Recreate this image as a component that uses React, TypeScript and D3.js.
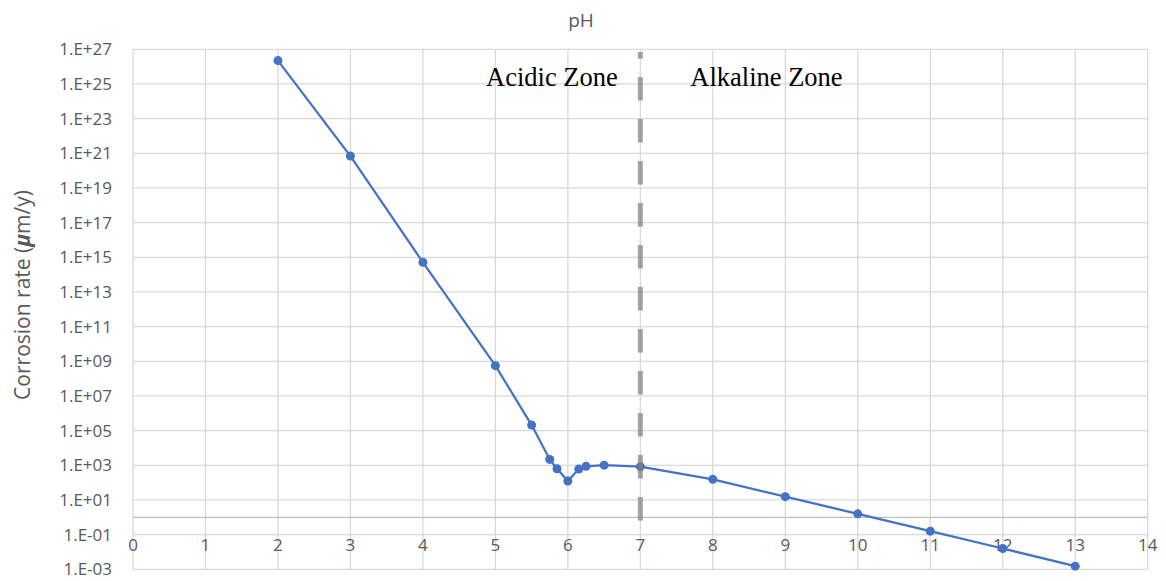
import React from "react";
import * as d3 from "d3";

const pH = [2, 3, 4, 5, 5.5, 5.75, 5.85, 6, 6.15, 6.25, 6.5, 7, 8, 9, 10, 11, 12, 13];
const logRate = [26.35, 20.84, 14.71, 8.75, 5.32, 3.34, 2.8, 2.09, 2.78, 2.94, 3.01, 2.92, 2.19, 1.19, 0.2, -0.8, -1.8, -2.82];
const rate = logRate.map((l) => Math.pow(10, l));
const xTicks = d3.range(0, 15);
const yTickExps = d3.range(-3, 28, 2);
const yTickLabels = yTickExps.map((e) => `1.E${e < 0 ? "-" : "+"}${String(Math.abs(e)).padStart(2, "0")}`);
const zoneLabels = [
  { text: "Acidic Zone", x: 5.78 },
  { text: "Alkaline Zone", x: 8.74 },
];
const boundaryPH = 7;

const W = 1166;
const H = 581;
const M = { left: 133, right: 1147.7, top: 49.3, bottom: 569.3 };

export default function App() {
  const x = d3.scaleLinear().domain([0, 14]).range([M.left, M.right]);
  const y = d3.scaleLog().domain([1e-3, 1e27]).range([M.bottom, M.top]);
  const line = d3
    .line<number>()
    .x((_, i) => x(pH[i]))
    .y((d) => y(d));
  const gridColor = "#d9d9d9";
  const textColor = "#595959";
  const font = "'Open Sans', sans-serif";
  return (
    <div style={{ position: "absolute", left: 0, top: 0 }}>
      <svg width={W} height={H} style={{ display: "block", background: "#fff" }}>
        {/* grid */}
        {yTickExps.map((e) => (
          <line key={"gy" + e} x1={M.left} x2={M.right} y1={y(Math.pow(10, e))} y2={y(Math.pow(10, e))} stroke={gridColor} strokeWidth={1.3} />
        ))}
        {xTicks.map((t) => (
          <line key={"gx" + t} x1={x(t)} x2={x(t)} y1={M.top} y2={M.bottom} stroke={gridColor} strokeWidth={1.3} />
        ))}
        {/* x axis line at 1 */}
        <line x1={M.left} x2={M.right} y1={y(1)} y2={y(1)} stroke="#bfbfbf" strokeWidth={1.3} />
        {/* y tick labels */}
        {yTickExps.map((e, i) => (
          <text key={"ly" + e} x={112} y={y(Math.pow(10, e))} dy="0.35em" textAnchor="end" fontFamily={font} fontSize={17} fill={textColor}>
            {yTickLabels[i]}
          </text>
        ))}
        {/* x tick labels */}
        {xTicks.map((t) => (
          <text key={"lx" + t} x={x(t)} y={y(1) + 28} dy="0.35em" textAnchor="middle" fontFamily={font} fontSize={17} fill={textColor}>
            {t}
          </text>
        ))}
        {/* title */}
        <text x={581} y={20} dy="0.35em" textAnchor="middle" fontFamily={font} fontSize={19} fill={textColor}>
          pH
        </text>
        {/* y label */}
        <text transform={`translate(23,${295}) rotate(-90)`} dy="0.35em" textAnchor="middle" fontFamily={font} fontSize={21} fill={textColor}>
          Corrosion rate (<tspan fontWeight="bold" fontStyle="italic">μ</tspan>m/y)
        </text>
        {/* series */}
        <path d={line(rate) || ""} fill="none" stroke="#4472c4" strokeWidth={2.25} />
        {rate.map((r, i) => (
          <circle key={"p" + i} cx={x(pH[i])} cy={y(r)} r={4.5} fill="#4472c4" />
        ))}
        {/* boundary dashed line */}
        <line
          x1={x(boundaryPH)}
          x2={x(boundaryPH)}
          y1={52}
          y2={521}
          stroke="#7f7f7f"
          strokeOpacity={0.7}
          strokeWidth={5}
          strokeDasharray="23.5 18.5"
          strokeDashoffset={17}
        />
        {zoneLabels.map((z) => (
          <text key={z.text} x={x(z.x)} y={86} textAnchor="middle" fontFamily="'Liberation Serif', 'Times New Roman', serif" fontSize={26.5} fill="#000">
            {z.text}
          </text>
        ))}
      </svg>
    </div>
  );
}
